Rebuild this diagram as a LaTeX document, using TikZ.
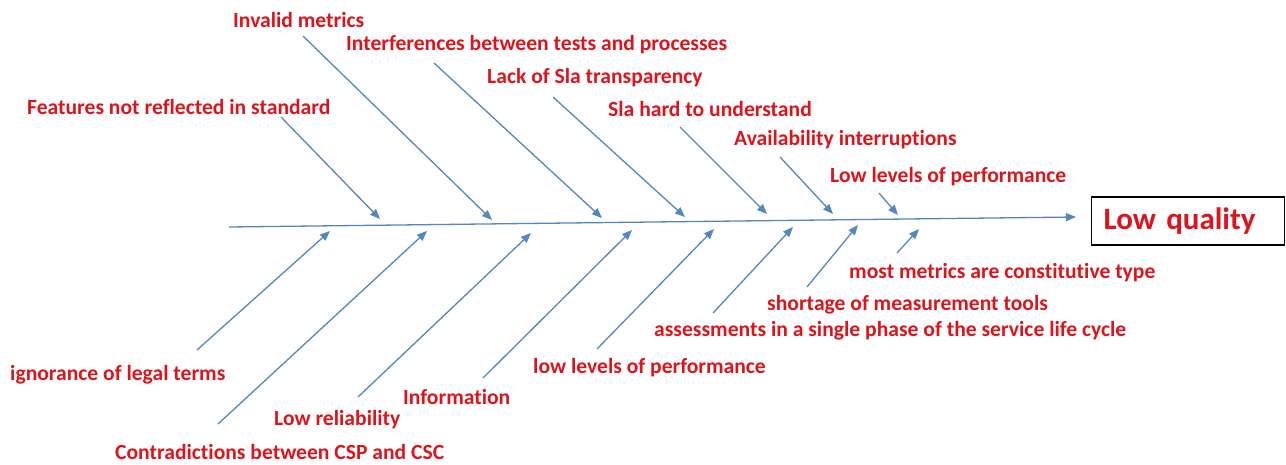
\documentclass[tikz,border=0pt]{standalone}
\usepackage{fontspec}
\setmainfont{Carlito}[Ligatures=NoCommon]
\usetikzlibrary{arrows.meta}
\definecolor{lblred}{RGB}{222,20,28}
\definecolor{arrblue}{RGB}{84,134,192}
\begin{document}
\begin{tikzpicture}[x=1pt,y=-1pt,
  lbl/.style={anchor=west,inner sep=0pt,text=lblred,font=\bfseries\fontsize{21.6}{23}\selectfont},
  bone/.style={draw=arrblue,line width=1.3pt,-{Triangle[length=10pt,width=8pt]}},
  headbox/.style={draw=black,line width=1.2pt,anchor=west,text width=169pt,align=left,inner xsep=12pt,minimum height=48pt,inner ysep=0pt,text=lblred,font=\bfseries\fontsize{31}{33}\selectfont}]
\useasboundingbox (0,0) rectangle (1286,464);
% spine and effect
\coordinate (s0) at (229,227);
\coordinate (s1) at (1076,217);
\draw[bone] (s0) -- (s1);
\node[headbox] (effect) at (1091,221) {Low quality};
% top labels
\node[lbl] (t1) at (233,20) {Invalid metrics};
\node[lbl] (t2) at (346,45) {Interferences between tests and processes};
\node[lbl] (t3) at (487,78) {Lack of Sla transparency};
\node[lbl] (t0) at (27,107) {Features not reflected in standard};
\node[lbl] (t4) at (608,109) {Sla hard to understand};
\node[lbl] (t5) at (734,140) {Availability interruptions};
\node[lbl] (t6) at (830,177) {Low levels of performance};
% bottom labels
\node[lbl] (b7) at (849,273) {most metrics are constitutive type};
\node[lbl] (b6) at (767,305) {shortage of measurement tools};
\node[lbl] (b5) at (654,331) {assessments in a single phase of the service life cycle};
\node[lbl] (b4) at (533,368) {low levels of performance};
\node[lbl] (b0) at (10,375) {ignorance of legal terms};
\node[lbl] (b3) at (403,397) {Information};
\node[lbl] (b2) at (274,420) {Low reliability};
\node[lbl] (b1) at (115,452) {Contradictions between CSP and CSC};
% top arrow coordinates
\coordinate (ta0) at (281,117); \coordinate (te0) at (380,219);
\coordinate (ta1) at (303,36);  \coordinate (te1) at (492,220);
\coordinate (ta2) at (434,63);  \coordinate (te2) at (602,218);
\coordinate (ta3) at (553,97);  \coordinate (te3) at (685,217);
\coordinate (ta4) at (680,127); \coordinate (te4) at (767,214);
\coordinate (ta5) at (780,157); \coordinate (te5) at (833,214);
\coordinate (ta6) at (879,193); \coordinate (te6) at (898,215);
\foreach \i in {0,...,6} {\draw[bone] (ta\i) -- (te\i);}
% bottom arrow coordinates
\coordinate (ba0) at (197,350); \coordinate (be0) at (330,231);
\coordinate (ba1) at (218,424); \coordinate (be1) at (427,231);
\coordinate (ba2) at (358,397); \coordinate (be2) at (531,233);
\coordinate (ba3) at (483,378); \coordinate (be3) at (632,230);
\coordinate (ba4) at (597,349); \coordinate (be4) at (714,229);
\coordinate (ba5) at (713,313); \coordinate (be5) at (793,227);
\coordinate (ba6) at (807,287); \coordinate (be6) at (858,225);
\coordinate (ba7) at (897,253); \coordinate (be7) at (919,229);
\foreach \i in {0,...,7} {\draw[bone] (ba\i) -- (be\i);}
\end{tikzpicture}
\end{document}
